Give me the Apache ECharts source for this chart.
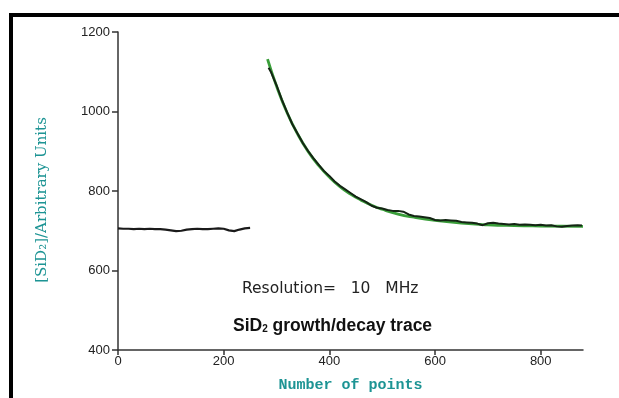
<!DOCTYPE html>
<html>
<head>
<meta charset="utf-8">
<script src="https://cdn.jsdelivr.net/npm/echarts@6/dist/echarts.min.js"></script>
<style>
  html, body { margin: 0; padding: 0; background: #fff; }
  #trace { width: 619px; height: 398px; }
</style>
</head>
<body>
<div id="trace"></div>
<script>
// flat part of the trace (before the step)
var flatX = [0,10,20,30,40,50,60,70,80,90,100,110,120,130,140,150,160,170,180,190,200,210,220,230,240,250];
var flatY = [706,705,705,704,705,704,705,704,704,703,701,699,700,703,704,705,704,704,705,706,705,701,699,703,706,707];

// decay part, measured trace
var decayX = [285,290,300,310,320,330,340,350,360,370,380,390,400,410,420,430,440,450,460,470,480,490,500,510,520,530,540,550,560,570,580,590,600,610,620,630,640,650,660,670,680,690,700,710,720,730,740,750,760,770,780,790,800,810,820,830,840,850,860,870,878];
var decayY = [1110,1098,1066,1030,998,968,944,920,900,882,866,850,838,824,813,804,795,786,779,772,763,758,756,752,750,750,748,741,737,736,734,732,727,726,727,726,725,722,721,720,718,714,719,720,718,717,716,717,715,716,715,714,715,713,714,711,710,712,713,714,713];

// fitted curve (green)
var fitX = [283,300,320,340,360,380,400,420,440,460,480,500,530,560,600,650,700,750,800,880];
var fitY = [1132,1064,997,943,899,864,835,811,792,777,764,754,742,734,726,719,715,713,712,711];

var xTicks = [0,200,400,600,800];

function pairs(xs, ys) {
  var out = [];
  for (var i = 0; i < xs.length; i++) out.push([xs[i], ys[i]]);
  return out;
}

var myChart = echarts.init(document.getElementById('trace'));

var option = {
  animation: false,
  backgroundColor: '#fff',
  grid: { left: 118, top: 32, right: 36, bottom: 46 },
  xAxis: {
    type: 'value',
    min: 0, max: 880,
    interval: 200,
    name: 'Number of points',
    nameLocation: 'middle',
    nameGap: 28,
    nameTextStyle: { color: '#1d9494', fontFamily: 'Liberation Mono', fontWeight: 'bold', fontSize: 15 },
    splitLine: { show: false },
    axisLine: { onZero: false, lineStyle: { color: '#333', width: 1.5 } },
    axisTick: { length: 5, customValues: xTicks, lineStyle: { color: '#333', width: 1.5 } },
    axisLabel: { customValues: xTicks, color: '#222', fontSize: 13, fontFamily: 'Liberation Sans', margin: 5 }
  },
  yAxis: {
    type: 'value',
    min: 400, max: 1200,
    interval: 200,
    name: '[SiD\u2082]/Arbitrary Units',
    nameLocation: 'middle',
    nameGap: 68,
    nameTextStyle: { color: '#1d9494', fontFamily: 'DejaVu Serif', fontSize: 15, padding: [0, 18, 0, 0] },
    splitLine: { show: false },
    axisLine: { show: true, onZero: false, lineStyle: { color: '#333', width: 1.5 } },
    axisTick: { show: true, length: 6, lineStyle: { color: '#333', width: 1.5 } },
    axisLabel: { color: '#222', fontSize: 13, fontFamily: 'Liberation Sans', margin: 8,
                 formatter: function (v) { return String(v); } }
  },
  series: [
    {
      name: 'fit', type: 'line', data: pairs(fitX, fitY), smooth: true,
      showSymbol: false, lineStyle: { color: '#3a9e3a', width: 2.8 }, z: 2
    },
    {
      name: 'flat', type: 'line', data: pairs(flatX, flatY),
      showSymbol: false, lineStyle: { color: '#1a1a1a', width: 2.2 }, z: 3
    },
    {
      name: 'decay', type: 'line', data: pairs(decayX, decayY),
      showSymbol: false, lineStyle: { color: '#142414', width: 2 }, z: 3
    }
  ],
  graphic: [
    { type: 'rect', shape: { x: 9, y: 13, width: 610, height: 4 }, style: { fill: '#000' } },
    { type: 'rect', shape: { x: 9, y: 13, width: 4, height: 385 }, style: { fill: '#000' } },
    {
      type: 'text', left: 242, top: 281,
      style: { text: 'Resolution=   10   MHz', font: '15.5px "DejaVu Sans"', fill: '#222' }
    },
    {
      type: 'text', left: 233, top: 317,
      style: {
        text: '{a|SiD}{s|2}{a| growth/decay trace}',
        rich: {
          a: { font: 'bold 17.5px "Liberation Sans"', fill: '#111' },
          s: { font: 'bold 10px "Liberation Sans"', fill: '#111', padding: [7, 0, 0, 0] }
        }
      }
    }
  ]
};

myChart.setOption(option);
</script>
</body>
</html>
